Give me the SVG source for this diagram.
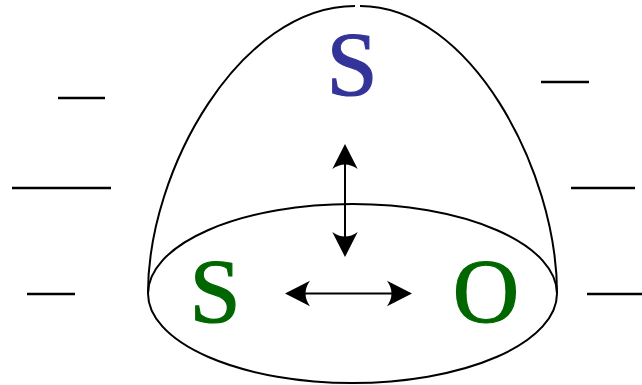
<svg xmlns="http://www.w3.org/2000/svg" width="642" height="385" viewBox="0 0 642 385">
<style>
.s{fill:none;stroke:#000;stroke-width:2}
.d{fill:none;stroke:#000;stroke-width:2.5}
.h{fill:#000;stroke:none}
.t{font-family:"Liberation Serif","Times New Roman",serif;text-anchor:middle;stroke-width:1.2}
.b{fill:#333399;stroke:#333399}
.g{fill:#006600;stroke:#006600}
</style>
<defs>
<path id="head" d="M0,0 L-12.7,25 Q0,16 12.7,25 Z"/>
</defs>
<g id="dashes">
<line class="d" x1="58" y1="98" x2="105" y2="98"/>
<line class="d" x1="12" y1="188" x2="111" y2="188"/>
<line class="d" x1="27" y1="294" x2="75" y2="294"/>
<line class="d" x1="541" y1="82" x2="589" y2="82"/>
<line class="d" x1="571" y1="188" x2="635" y2="188"/>
<line class="d" x1="587" y1="294" x2="642" y2="294"/>
</g>
<g id="dome">
<path class="s" d="M148,293 C148,170 240,6 355,6"/>
<path class="s" d="M360,6 C470,6 557,170 557,293"/>
<ellipse class="s" cx="352.5" cy="293.5" rx="204.5" ry="89.5"/>
</g>
<g id="node-s-top"><text class="t b" x="352" y="95" font-size="92">S</text></g>
<g id="node-s-left"><text class="t g" x="215" y="322" font-size="92">S</text></g>
<g id="node-o"><text class="t g" x="486" y="322" font-size="92">O</text></g>
<g id="connectors">
<line class="s" x1="345" y1="155" x2="345" y2="246"/>
<use href="#head" class="h" transform="translate(345,144)"/>
<use href="#head" class="h" transform="translate(345,257) rotate(180)"/>
<line class="s" x1="296" y1="293.5" x2="401" y2="293.5"/>
<use href="#head" class="h" transform="translate(285,293.5) rotate(-90)"/>
<use href="#head" class="h" transform="translate(412,293.5) rotate(90)"/>
</g>
</svg>
